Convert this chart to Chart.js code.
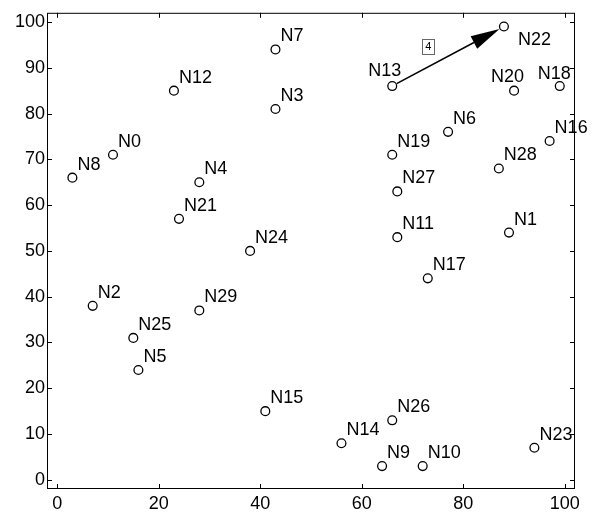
<!DOCTYPE html>
<html>
<head>
<meta charset="utf-8">
<script src="https://cdn.jsdelivr.net/npm/chart.js@4/dist/chart.umd.min.js"></script>
<style>
  html, body { margin: 0; padding: 0; background: #fff; }
  #graph { display: block; }
</style>
</head>
<body>
<canvas id="graph" width="602" height="518"></canvas>
<script>
// node coordinates
const nodeNames = ['N0','N1','N2','N3','N4','N5','N6','N7','N8','N9',
                   'N10','N11','N12','N13','N14','N15','N16','N17','N18','N19',
                   'N20','N21','N22','N23','N24','N25','N26','N27','N28','N29'];
const nodeX = [11, 89, 7, 43, 28, 16, 77, 43, 3, 64,
               72, 67, 23, 66, 56, 41, 97, 73, 99, 66,
               90, 24, 88, 94, 38, 15, 66, 67, 87, 28];
const nodeY = [71, 54, 38, 81, 65, 24, 76, 94, 66, 3,
               3, 53, 85, 86, 8, 15, 74, 44, 86, 71,
               85, 57, 99, 7, 50, 31, 13, 63, 68, 37];

// the one directed link and its weight
const linkFrom = 13;
const linkTo = 22;
const linkWeight = '4';

const xTicks = [0, 20, 40, 60, 80, 100];
const yTicks = [0, 10, 20, 30, 40, 50, 60, 70, 80, 90, 100];

const FONT = "'Liberation Sans', Arial, sans-serif";

// name placement: default is up-right of the node, a few are moved off the link
const labelShift = {
    N13: [-24, -10],
    N20: [-23, -9],
    N18: [-22, -7],
    N22: [14, 18]
};

const framePlugin = {
    id: 'frame',
    afterDatasetsDraw(chart) {
        const ctx = chart.ctx;
        const a = chart.chartArea;
        const xs = chart.scales.x, ys = chart.scales.y;
        const tl = 5;

        ctx.save();
        ctx.strokeStyle = '#000';
        ctx.lineWidth = 1;
        ctx.strokeRect(a.left + 0.5, a.top + 0.5, a.right - a.left - 1, a.bottom - a.top - 1);

        ctx.beginPath();
        xTicks.forEach(v => {
            const px = Math.round(xs.getPixelForValue(v)) + 0.5;
            ctx.moveTo(px, a.bottom); ctx.lineTo(px, a.bottom - tl);
            ctx.moveTo(px, a.top); ctx.lineTo(px, a.top + tl);
        });
        yTicks.forEach(v => {
            const py = Math.round(ys.getPixelForValue(v)) + 0.5;
            ctx.moveTo(a.left, py); ctx.lineTo(a.left + tl, py);
            ctx.moveTo(a.right, py); ctx.lineTo(a.right - tl, py);
        });
        ctx.stroke();

        // arrow between the two linked nodes
        const x0 = xs.getPixelForValue(nodeX[linkFrom]), y0 = ys.getPixelForValue(nodeY[linkFrom]);
        const x1 = xs.getPixelForValue(nodeX[linkTo]), y1 = ys.getPixelForValue(nodeY[linkTo]);
        const ang = Math.atan2(y1 - y0, x1 - x0);
        const r = 5;
        const sx = x0 + r * Math.cos(ang), sy = y0 + r * Math.sin(ang);
        const tx = x1 - r * Math.cos(ang), ty = y1 - r * Math.sin(ang);
        const headLen = 29, headW = 7;
        const bx = tx - headLen * Math.cos(ang), by = ty - headLen * Math.sin(ang);
        ctx.lineWidth = 1.5;
        ctx.beginPath();
        ctx.moveTo(sx, sy);
        ctx.lineTo(bx, by);
        ctx.stroke();
        ctx.fillStyle = '#000';
        ctx.beginPath();
        ctx.moveTo(tx, ty);
        ctx.lineTo(bx - headW * Math.sin(ang), by + headW * Math.cos(ang));
        ctx.lineTo(bx + headW * Math.sin(ang), by - headW * Math.cos(ang));
        ctx.closePath();
        ctx.fill();

        // weight tag
        const wx = xs.getPixelForValue(73), wy = ys.getPixelForValue(94.5);
        ctx.lineWidth = 1;
        ctx.strokeStyle = '#666';
        ctx.fillStyle = '#fff';
        ctx.fillRect(Math.round(wx - 6) + 0.5, Math.round(wy - 8) + 0.5, 12, 15);
        ctx.strokeRect(Math.round(wx - 6) + 0.5, Math.round(wy - 8) + 0.5, 12, 15);
        ctx.fillStyle = '#000';
        ctx.font = '11px ' + FONT;
        ctx.textAlign = 'center';
        ctx.textBaseline = 'middle';
        ctx.fillText(linkWeight, wx + 0.5, wy);

        // node names
        ctx.font = '18px ' + FONT;
        ctx.textAlign = 'left';
        ctx.textBaseline = 'alphabetic';
        nodeNames.forEach((name, i) => {
            const s = labelShift[name] || [5, -8];
            const px = xs.getPixelForValue(nodeX[i]);
            const py = ys.getPixelForValue(nodeY[i]);
            ctx.fillText(name, px + s[0], py + s[1]);
        });
        ctx.restore();
    }
};

const tickFont = { family: FONT, size: 18 };

new Chart(document.getElementById('graph'), {
    type: 'scatter',
    data: {
        datasets: [{
            data: nodeX.map((x, i) => ({ x: x, y: nodeY[i] })),
            pointStyle: 'circle',
            pointRadius: 4.4,
            pointHoverRadius: 4.4,
            borderColor: '#000',
            borderWidth: 1.3,
            backgroundColor: 'rgba(0,0,0,0)'
        }]
    },
    options: {
        responsive: false,
        animation: false,
        events: [],
        layout: { padding: { left: 0, right: 27, top: 5, bottom: 0 } },
        plugins: { legend: { display: false }, tooltip: { enabled: false } },
        scales: {
            x: {
                type: 'linear',
                min: -2, max: 102,
                afterBuildTicks: s => { s.ticks = xTicks.map(v => ({ value: v })); },
                afterFit: s => { s.height = 29; },
                grid: { display: false, drawTicks: false },
                border: { display: false },
                ticks: { color: '#000', font: tickFont, padding: 4, maxRotation: 0, autoSkip: false }
            },
            y: {
                type: 'linear',
                min: -2, max: 102,
                afterBuildTicks: s => { s.ticks = yTicks.map(v => ({ value: v })); },
                afterFit: s => { s.width = 47; },
                grid: { display: false, drawTicks: false },
                border: { display: false },
                ticks: { color: '#000', font: tickFont, padding: 2, autoSkip: false }
            }
        }
    },
    plugins: [framePlugin]
});
</script>
</body>
</html>
